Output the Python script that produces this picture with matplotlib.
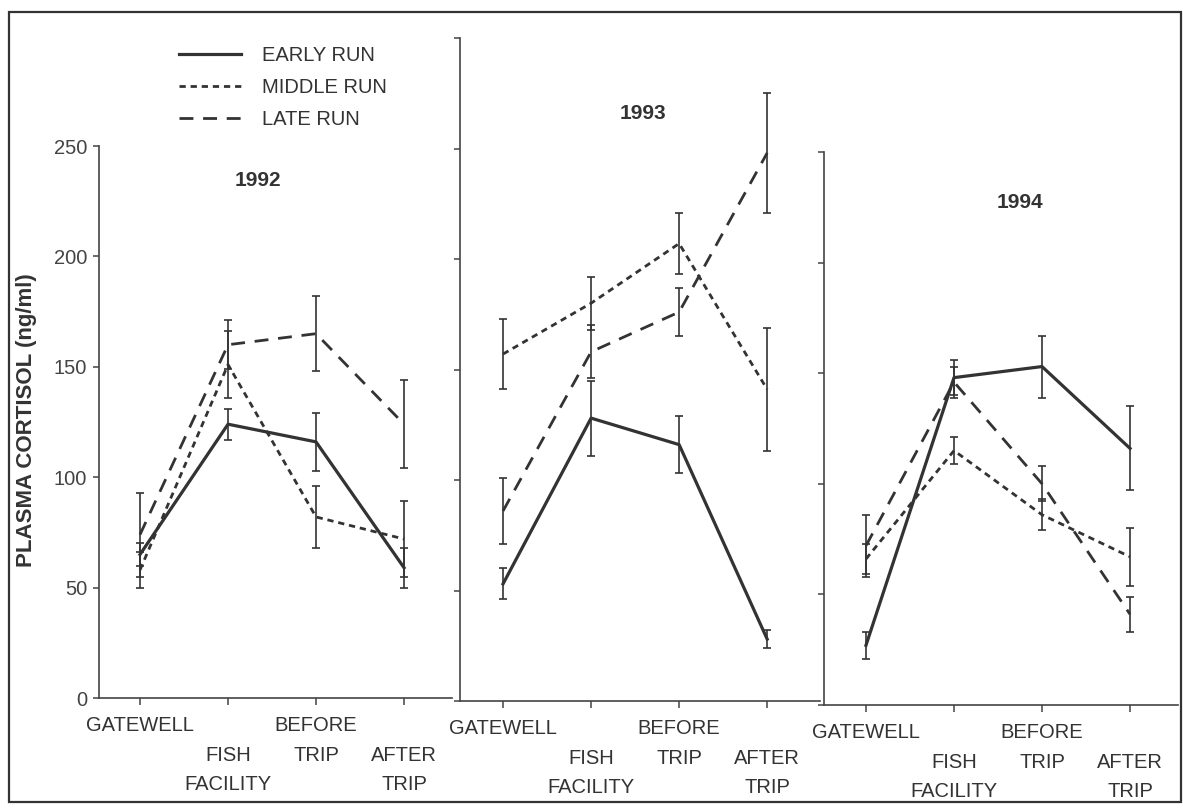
import matplotlib
matplotlib.use('Agg')
import matplotlib.pyplot as plt
from matplotlib.lines import Line2D
from matplotlib.patches import Rectangle

plt.rcParams['font.family'] = ['Liberation Sans', 'DejaVu Sans']
plt.rcParams['lines.scale_dashes'] = False

# sampling stages (x categories)
stages = ['GATEWELL', '\nFISH\nFACILITY', 'BEFORE\nTRIP', '\nAFTER\nTRIP']
x = [0, 1, 2, 3]

# 1992
early_92 = [65, 124, 116, 59]
early_92_err = [5, 7, 13, 9]
middle_92 = [58, 151, 82, 72]
middle_92_err = [8, 15, 14, 17]
late_92 = [74, 160, 165, 124]
late_92_err = [19, 11, 17, 20]

# 1993
early_93 = [53, 128, 116, 28]
early_93_err = [7, 17, 13, 4]
middle_93 = [157, 180, 207, 141]
middle_93_err = [16, 12, 14, 28]
late_93 = [86, 158, 176, 248]
late_93_err = [15, 12, 11, 27]

# 1994
early_94 = [27, 148, 153, 116]
early_94_err = [6, 8, 14, 19]
middle_94 = [66, 115, 86, 67]
middle_94_err = [7, 6, 7, 13]
late_94 = [72, 146, 100, 41]
late_94_err = [14, 7, 8, 8]

W, H = 1183, 809
ink = '#333333'
styles = {
    'early': dict(linestyle='-', lw=2.3),
    'middle': dict(dashes=(4.5, 3.5), lw=2.0),
    'late': dict(dashes=(10, 7), lw=2.0),
}

fig = plt.figure(figsize=(W / 100, H / 100), dpi=100)

def make_ax(left, right, bottom, top, ymax, xl, xr):
    ax = fig.add_axes([left / W, (H - bottom) / H, (right - left) / W, (bottom - top) / H])
    ax.set_xlim(xl, xr)
    ax.set_ylim(0, ymax)
    for s in ['top', 'right']:
        ax.spines[s].set_visible(False)
    for s in ['left', 'bottom']:
        ax.spines[s].set_color('#444444')
        ax.spines[s].set_linewidth(1.2)
    ax.set_xticks(x)
    ax.set_xticklabels(stages, fontsize=14.5, linespacing=1.7, color='#333333')
    ax.tick_params(axis='x', length=5, width=1.1, pad=8, color='#444444')
    ax.tick_params(axis='y', length=4.5, width=1.1, pad=4, color='#444444',
                   labelsize=14.5, labelcolor='#444444')
    ax.patch.set_alpha(0)
    return ax

ax1 = make_ax(99, 452, 698, 146, 250, -0.466, 3.545)
ax2 = make_ax(460, 820, 701, 38, 300, -0.489, 3.6)
ax3 = make_ax(824, 1178, 705, 152, 250, -0.477, 3.545)

ax1.set_yticks([0, 50, 100, 150, 200, 250])
ax2.set_yticks([0, 50, 100, 150, 200, 250, 300])
ax2.set_yticklabels([])
ax3.set_yticks([0, 50, 100, 150, 200, 250])
ax3.set_yticklabels([])

panels = [
    (ax1, [(early_92, early_92_err, 'early'), (middle_92, middle_92_err, 'middle'),
           (late_92, late_92_err, 'late')]),
    (ax2, [(early_93, early_93_err, 'early'), (middle_93, middle_93_err, 'middle'),
           (late_93, late_93_err, 'late')]),
    (ax3, [(early_94, early_94_err, 'early'), (middle_94, middle_94_err, 'middle'),
           (late_94, late_94_err, 'late')]),
]
for ax, series in panels:
    for vals, err, key in series:
        ax.errorbar(x, vals, yerr=err, fmt='none', ecolor=ink, elinewidth=1.2,
                    capsize=3, capthick=1.2)
        ax.plot(x, vals, color=ink, **styles[key])

ax1.text(1.34, 234.6, '1992', ha='center', va='center', fontweight='bold', fontsize=15, color=ink)
ax2.text(1.59, 266, '1993', ha='center', va='center', fontweight='bold', fontsize=15, color=ink)
ax3.text(1.75, 227, '1994', ha='center', va='center', fontweight='bold', fontsize=15, color=ink)

fig.text(27 / W, 1 - 420 / H, 'PLASMA CORTISOL (ng/ml)', rotation=90, ha='center',
         va='center', fontweight='bold', fontsize=16, color=ink)

handles = [Line2D([], [], color=ink, **styles[k]) for k in ['early', 'middle', 'late']]
fig.legend(handles, ['EARLY RUN', 'MIDDLE RUN', 'LATE RUN'], loc='upper left',
           bbox_to_anchor=(179 / W, 1 - 46 / H), frameon=False, fontsize=14.5,
           handlelength=3.1, handletextpad=1.0, labelspacing=0.65, borderpad=0,
           borderaxespad=0, labelcolor='#333333')

fig.add_artist(Rectangle((9 / W, 1 - 802 / H), (1181 - 9) / W, (802 - 12) / H,
                         transform=fig.transFigure, fill=False, lw=1.6, ec=ink))

fig.savefig('out.png', dpi=100)
